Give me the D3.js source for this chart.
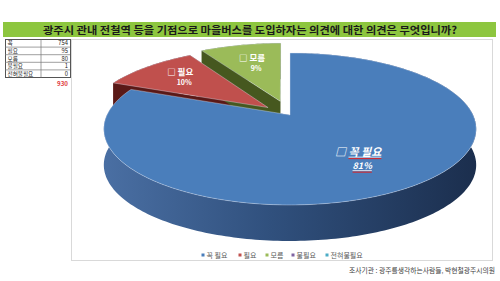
<!DOCTYPE html>
<html><head><meta charset="utf-8">
<script src="https://cdn.jsdelivr.net/npm/d3@7/dist/d3.min.js"></script>
<style>
body{margin:0;background:#fff}
svg{display:block;font-family:"Noto Sans CJK KR","Noto Sans",sans-serif}
</style>
</head><body>
<svg id="c" width="500" height="281"></svg>
<script>
// ---------- data ----------
const title = "광주시 관내 전철역 등을 기점으로 마을버스를 도입하자는 의견에 대한 의견은 무엇입니까?";
const categories = ["꼭 필요", "필요", "모름", "불필요", "전혀불필요"];
const values = [754, 95, 80, 1, 0];
const tableLabels = ["꼭", "필요", "모름", "불필요", "전혀불필요"];
const tableValues = [754, 95, 80, 1, 0];
const totalLabel = "930";
const source = "조사기관 : 광주를생각하는사람들, 박현철광주시의원";

// ---------- style ----------
const topColors = ["#4a7ebb", "#c0504d", "#9bbb59", "#8064a2", "#4bacc6"];
const wallColors = ["url(#gBlue)", "#5a1917", "#46581f", "#4a3a60", "#2c6a7c"];
const explodeBy = [0, 0.16, 0.2, 0, 0];
const labelR = [0.62, 0.69, 0.62, 0.8, 0.8];
const P = {cx: 290, cy: 115, A: 183, B: 73.4, k: 0.184, H: 36};

const svg = d3.select("#c");
const defs = svg.append("defs");
const g1 = defs.append("linearGradient").attr("id", "gBlue")
  .attr("gradientUnits", "userSpaceOnUse").attr("x1", 104).attr("x2", 477).attr("y1", 0).attr("y2", 0);
g1.append("stop").attr("offset", "0%").attr("stop-color", "#4a6fa3");
g1.append("stop").attr("offset", "45%").attr("stop-color", "#30507d");
g1.append("stop").attr("offset", "100%").attr("stop-color", "#1b2e4d");

// title bar
svg.append("rect").attr("x", 3).attr("y", 22).attr("width", 493).attr("height", 15).attr("fill", "#8dc63f");
svg.append("text").attr("x", 250).attr("y", 33.6).attr("text-anchor", "middle")
  .attr("font-size", 10.5).attr("font-weight", "bold").attr("fill", "#1a1a1a")
  .attr("textLength", 414).attr("lengthAdjust", "spacingAndGlyphs").text(title);

// chart area border
svg.append("rect").attr("x", 71.5).attr("y", 39.5).attr("width", 421).attr("height", 221)
  .attr("fill", "none").attr("stroke", "#d9d9d9").attr("stroke-width", 1);

// table
const tx0 = 5, tx1 = 70, tcol = 41, ttop = 39.5, rowH = 7.6;
const rowY = d3.scaleBand().domain(d3.range(tableLabels.length)).range([ttop, ttop + rowH * tableLabels.length]);
const tg = svg.append("g");
tg.append("rect").attr("x", tx0 + 0.5).attr("y", ttop).attr("width", tx1 - tx0).attr("height", rowH * tableLabels.length)
  .attr("fill", "#fff").attr("stroke", "#555").attr("stroke-width", 1);
tableLabels.forEach((l, i) => {
  if (i > 0) tg.append("line").attr("x1", tx0).attr("x2", tx1).attr("y1", rowY(i)).attr("y2", rowY(i)).attr("stroke", "#777").attr("stroke-width", 0.7);
  tg.append("text").attr("x", tx0 + 2.5).attr("y", rowY(i) + rowH - 1.8).attr("font-size", 5.6).attr("fill", "#222").text(l);
  tg.append("text").attr("x", tx1 - 2).attr("y", rowY(i) + rowH - 1.8).attr("font-size", 5.8).attr("fill", "#222")
    .attr("text-anchor", "end").text(tableValues[i]);
});
tg.append("line").attr("x1", tcol).attr("x2", tcol).attr("y1", ttop).attr("y2", ttop + rowH * tableLabels.length).attr("stroke", "#777").attr("stroke-width", 0.7);
tg.append("text").attr("x", tx1 - 2).attr("y", 86).attr("font-size", 6.2).attr("font-weight", "bold")
  .attr("fill", "#e0393b").attr("text-anchor", "end").text(totalLabel);

// ---------- 3D pie ----------
function proj(u, v, h) { const s = 1 / (1 - P.k * v); return [P.cx + P.A * u * s, P.cy + P.B * v * s + h]; }
const arcs = d3.pie().sort(null).value(d => d)(values);
const total = d3.sum(values);
const pct = d3.format(".0%");
const drawn = arcs.filter(a => a.endAngle - a.startAngle > 0.01);
function geom(a) {
  const d = explodeBy[a.index], m = (a.startAngle + a.endAngle) / 2;
  const ou = d * Math.sin(m), ov = -d * Math.cos(m);
  return (t, r, h) => proj(ou + r * Math.sin(t), ov - r * Math.cos(t), h);
}
const line = d3.line();
const wallsG = svg.append("g"), radG = svg.append("g"), topG = svg.append("g"), labG = svg.append("g");
drawn.forEach(a => {
  const pt = geom(a);
  const n = Math.max(6, Math.ceil((a.endAngle - a.startAngle) / 0.02));
  const ts = d3.range(n + 1).map(i => a.startAngle + (a.endAngle - a.startAngle) * i / n);
  const wall = ts.map(t => pt(t, 1, 0)).concat(ts.slice().reverse().map(t => pt(t, 1, P.H)));
  wallsG.append("path").attr("d", line(wall) + "Z").attr("fill", wallColors[a.index]);
  [a.startAngle, a.endAngle].forEach(t => {
    const q = [pt(t, 0, 0), pt(t, 1, 0), pt(t, 1, P.H), pt(t, 0, P.H)];
    radG.append("path").attr("d", line(q) + "Z").attr("fill", wallColors[a.index]);
  });
  const top = [pt(0, 0, 0)].concat(ts.map(t => pt(t, 1, 0)));
  topG.append("path").attr("d", line(top) + "Z").attr("fill", topColors[a.index])
    .attr("stroke", "rgba(220,230,245,0.55)").attr("stroke-width", 0.7).attr("stroke-linejoin", "round");
});

// labels
drawn.forEach(a => {
  const pt = geom(a), m = (a.startAngle + a.endAngle) / 2;
  const [x, y] = pt(m, labelR[a.index], 0);
  const big = a.index === 0;
  const fs1 = big ? 11 : 8.5, fs2 = big ? 9 : 7;
  const y1 = big ? y - 1 : y - 3.5, y2 = big ? y + 12.5 : y + 6.3;
  const t1 = labG.append("text").attr("x", x - 2).attr("y", y1).attr("text-anchor", "middle")
    .attr("font-size", fs1).attr("font-weight", "bold").attr("fill", "#fff")
    .attr("font-style", big ? "italic" : "normal").text("□ " + categories[a.index]);
  const t2 = labG.append("text").attr("x", x + 2).attr("y", y2).attr("text-anchor", "middle")
    .attr("font-size", fs2).attr("font-weight", "bold").attr("fill", "#fff")
    .attr("font-style", big ? "italic" : "normal").text(pct(values[a.index] / total));
  if (big) {
    const w1 = t1.node().getComputedTextLength();
    const pre = t1.node().getSubStringLength(0, 2);
    const sx = x - 2 - w1 / 2 + pre, ex = x - 2 + w1 / 2;
    const w2 = t2.node().getComputedTextLength();
    [[sx, ex, y1], [x + 2 - w2 / 2, x + 2 + w2 / 2, y2]].forEach(([s, e, yy]) => {
      labG.append("line").attr("x1", s).attr("x2", e).attr("y1", yy + 1.5).attr("y2", yy + 1.5).attr("stroke", "#fff").attr("stroke-width", 0.8);
      labG.append("line").attr("x1", s).attr("x2", e).attr("y1", yy + 3).attr("y2", yy + 3).attr("stroke", "#e02020").attr("stroke-width", 1);
    });
  }
});

// legend
const legPos = [203, 240, 267, 293, 327];
const lg = svg.append("g");
categories.forEach((c, i) => {
  const x = legPos[i];
  lg.append("rect").attr("x", x - 1.5).attr("y", 253.5).attr("width", 3).attr("height", 3).attr("fill", topColors[i]);
  lg.append("text").attr("x", x + 3.5).attr("y", 258).attr("font-size", 7).attr("fill", "#595959").text(c);
});

// source
svg.append("text").attr("x", 495).attr("y", 272.5).attr("text-anchor", "end")
  .attr("font-size", 6.8).attr("fill", "#404040").text(source);
</script>
</body></html>
